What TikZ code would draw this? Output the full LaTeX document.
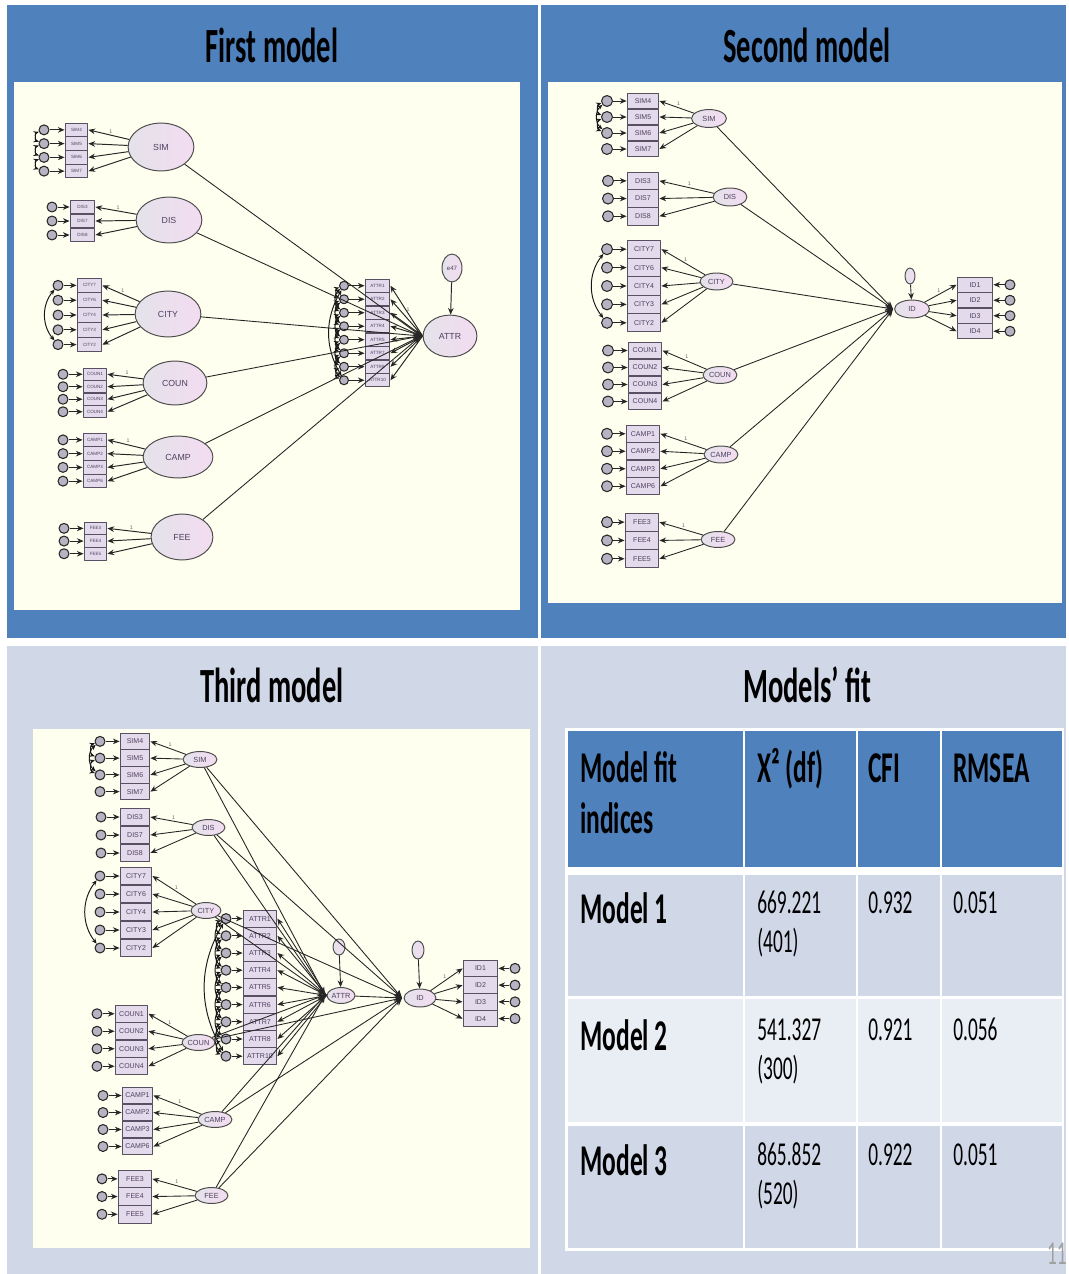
\documentclass[tikz,border=0pt]{standalone}
\usepackage{fontspec}
\usepackage{graphicx}
\setmainfont{Carlito}
\newfontfamily\amos{Liberation Sans}
\usetikzlibrary{arrows.meta,shapes.geometric}

\definecolor{ppblue}{HTML}{4F81BD}
\definecolor{pplight}{HTML}{D0D8E8}
\definecolor{pprow}{HTML}{E9EDF4}
\definecolor{cream}{HTML}{FFFFF0}
\definecolor{latL}{HTML}{E4E2EA}
\definecolor{latR}{HTML}{F3DCF1}
\definecolor{boxfill}{HTML}{E3DBEB}
\definecolor{boxline}{HTML}{5A5064}
\definecolor{errfill}{HTML}{B9B2C2}
\definecolor{inklbl}{HTML}{4E4160}
\definecolor{pagegrey}{HTML}{A0A0A0}

% condensed lettering used for all slide text
\newcommand\sqz[1]{\scalebox{0.58}[1]{#1}}

\tikzset{
  sz/.style 2 args={minimum width=#1*0.567pt, minimum height=#2*0.567pt},
  ind/.style={rectangle, draw=boxline, fill=boxfill, line width=0.55pt, inner sep=0pt,
              text=inklbl, font=\amos\fontsize{4}{4.5}\selectfont},
  err/.style={circle, draw=black!85, fill=errfill, line width=0.6pt, inner sep=0pt},
  lat/.style={ellipse, draw=black!70, left color=latL, right color=latR, line width=0.55pt,
              inner sep=0pt, text=inklbl, font=\amos\fontsize{4.2}{4.5}\selectfont},
  ld/.style={draw=black!85, line width=0.5pt, -{Stealth[length=3.8pt,width=3.2pt]}},
  cov/.style={draw=black!90, line width=0.55pt,
              {Stealth[length=3pt,width=2.6pt]}-{Stealth[length=3pt,width=2.6pt]}},
  reg/.style={draw=black!85, line width=0.5pt, -{Stealth[length=4.5pt,width=3.6pt]}},
  onelbl/.style={font=\amos\fontsize{3}{3}\selectfont, text=black!60, inner sep=0.3pt},
  ttl/.style={font=\bfseries\fontsize{28}{30}\selectfont, anchor=base, inner sep=0pt},
  hdr/.style={font=\bfseries\fontsize{25}{28}\selectfont, anchor=base west, inner sep=0pt},
  num/.style={font=\fontsize{19}{22}\selectfont, anchor=base west, inner sep=0pt},
}

% indicator column: errors on the left
% #1 prefix, #2 box left, #3 box width, #4 top, #5 box height,
% #6 error diameter, #7 error x, #8 factor, #9 labels
\newcommand\indset[9]{%
  \foreach \lab [count=\k] in {#9}{%
    \pgfmathsetmacro\yc{#4+(\k-0.5)*#5}%
    \node[ind, sz={#3}{#5}] (#1\k) at ({#2+#3/2},\yc) {\lab};
    \node[err, minimum size=#6*0.567pt] (#1e\k) at (#7,\yc) {};
    \draw[ld] (#1e\k) -- (#1\k.west);
    \draw[ld] (#8) -- (#1\k.east);
    \ifnum\k=1 \path (#8) -- (#1\k.east) node[pos=0.45, above=0.6pt, onelbl] {1};\fi
  }}
% indicator column: errors on the right
\newcommand\indsetR[9]{%
  \foreach \lab [count=\k] in {#9}{%
    \pgfmathsetmacro\yc{#4+(\k-0.5)*#5}%
    \node[ind, sz={#3}{#5}] (#1\k) at ({#2+#3/2},\yc) {\lab};
    \node[err, minimum size=#6*0.567pt] (#1e\k) at (#7,\yc) {};
    \draw[ld] (#1e\k) -- (#1\k.east);
    \draw[ld] (#8) -- (#1\k.west);
    \ifnum\k=1 \path (#8) -- (#1\k.west) node[pos=0.45, above=0.6pt, onelbl] {1};\fi
  }}

\begin{document}
\begin{tikzpicture}[x=0.02cm, y=-0.02cm, line join=round]
\useasboundingbox (0,0) rectangle (1068,1274);
\fill[white] (0,0) rectangle (1068,1274);

% ---------- panels ----------
\fill[ppblue] (7,5) rectangle (538,638);
\fill[ppblue] (541,5) rectangle (1066,638);
\fill[pplight] (7,646) rectangle (538,1274);
\fill[pplight] (541,646) rectangle (1066,1274);

\fill[cream] (14,82) rectangle (520,610);
\fill[cream] (548,82) rectangle (1062,603);
\fill[cream] (33,729) rectangle (530,1248);

\node[ttl] (t1) at (272,63) {\sqz{First model}};
\node[ttl] (t2) at (807,63) {\sqz{Second model}};
\node[ttl] (t3) at (272,702) {\sqz{Third model}};
\node[ttl] (t4) at (807,702) {\sqz{Models’ fit}};

% ---------- first model ----------
\begin{scope}[ind/.append style={font=\amos\fontsize{2.6}{3}\selectfont},
              lat/.append style={font=\amos\fontsize{5}{6}\selectfont},
              ld/.append style={line width=0.55pt}]
\node[lat, sz={66}{48}] (m1sim)  at (161,147) {SIM};
\node[lat, sz={66}{46}] (m1dis)  at (169,220) {DIS};
\node[lat, sz={66}{46}] (m1city) at (168,314) {CITY};
\node[lat, sz={64}{44}] (m1coun) at (175,383) {COUN};
\node[lat, sz={70}{42}] (m1camp) at (178,457) {CAMP};
\node[lat, sz={62}{46}] (m1fee)  at (182,537) {FEE};
\node[lat, sz={54}{42}] (m1attr) at (450,336) {ATTR};
\node[lat, sz={20}{28}, font=\amos\fontsize{3.5}{4}\selectfont] (m1ae) at (452,268) {e47};
\coordinate (m1hub) at (421,336);

\indset{m1a}{65}{23}{123}{13.75}{10}{44}{m1sim}{SIM4,SIM5,SIM6,SIM7}
\indset{m1b}{70}{25}{200}{14}{10}{52}{m1dis}{DIS3,DIS7,DIS8}
\indset{m1c}{77}{25}{278}{14.8}{10}{58}{m1city}{CITY7,CITY6,CITY4,CITY3,CITY2}
\indset{m1d}{83}{24}{368}{12.5}{10}{63}{m1coun}{COUN1,COUN2,COUN3,COUN4}
\indset{m1e}{83}{24}{433}{13.75}{10}{63}{m1camp}{CAMP1,CAMP2,CAMP3,CAMP6}
\indset{m1f}{84}{23}{522}{12.7}{10}{64}{m1fee}{FEE3,FEE4,FEE5}
\indset{m1g}{365}{25}{279}{13.5}{9}{344}{m1attr.west}{ATTR1,ATTR2,ATTR3,ATTR4,ATTR5,ATTR7,ATTR8,ATTR10}

\draw[cov] (m1ae1) to[bend right=70] (m1ae2);
\draw[cov] (m1ae2) to[bend right=70] (m1ae3);
\draw[cov] (m1ae3) to[bend right=70] (m1ae4);
\draw[cov] (m1ce1) to[bend right=40] (m1ce5);
\foreach \a/\b in {1/2,2/3,3/4,4/5,5/6,6/7,7/8}
  \draw[cov] (m1ge\a) to[bend right=70] (m1ge\b);
\foreach \a/\b in {1/3,3/5,5/7,2/4,4/6,6/8}
  \draw[cov] (m1ge\a) to[bend right=50] (m1ge\b);
\draw[cov] (m1ge1) to[bend right=30] (m1ge8);

\draw[ld] (m1ae) -- (m1attr);
\foreach \f in {m1sim,m1dis,m1city,m1coun,m1camp,m1fee}
  \draw[reg] (\f) -- (m1hub);
\end{scope}

% ---------- second model ----------
\node[lat, sz={35}{18}] (m2sim)  at (709,118.5) {SIM};
\node[lat, sz={34}{18}] (m2dis)  at (730,197) {DIS};
\node[lat, sz={33}{17}] (m2city) at (716.5,281.5) {CITY};
\node[lat, sz={34}{17}] (m2coun) at (720,375) {COUN};
\node[lat, sz={34}{17}] (m2camp) at (721,454.5) {CAMP};
\node[lat, sz={34}{16}] (m2fee)  at (718,539.5) {FEE};
\node[lat, sz={35}{18}] (m2id)   at (912,309) {ID};
\node[lat, sz={10}{16}] (m2ide)  at (910,276) {};
\coordinate (m2hub) at (893,309);

\indset{m2a}{627}{32}{93}{16}{11}{607}{m2sim}{SIM4,SIM5,SIM6,SIM7}
\indset{m2b}{627}{32}{172}{17.7}{11}{608}{m2dis}{DIS3,DIS7,DIS8}
\indset{m2c}{627}{34}{240}{18.4}{11}{607}{m2city}{CITY7,CITY6,CITY4,CITY3,CITY2}
\indset{m2d}{628}{34}{342}{17}{11}{608}{m2coun}{COUN1,COUN2,COUN3,COUN4}
\indset{m2e}{626}{34}{425}{17.5}{11}{607}{m2camp}{CAMP1,CAMP2,CAMP3,CAMP6}
\indset{m2f}{625}{34}{513}{18.3}{11}{607}{m2fee}{FEE3,FEE4,FEE5}
\indsetR{m2h}{957}{36}{277}{15.5}{10}{1010}{m2id}{ID1,ID2,ID3,ID4}

\draw[cov] (m2ae1) to[bend right=70] (m2ae2);
\draw[cov] (m2ae2) to[bend right=70] (m2ae3);
\draw[cov] (m2ae1) to[bend right=50] (m2ae3);
\draw[cov] (m2ce1) to[bend right=38] (m2ce5);

\draw[ld] (m2ide) -- (m2id);
\foreach \f in {m2sim,m2dis,m2city,m2coun,m2camp,m2fee}
  \draw[reg] (\f) -- (m2hub);

% ---------- third model ----------
\node[lat, sz={34}{16}] (m3sim)  at (200,759.5) {SIM};
\node[lat, sz={33}{16}] (m3dis)  at (208.5,827.5) {DIS};
\node[lat, sz={30}{16}] (m3city) at (206,910.5) {CITY};
\node[lat, sz={33}{16}] (m3coun) at (198.5,1042.5) {COUN};
\node[lat, sz={34}{16}] (m3camp) at (215,1119.5) {CAMP};
\node[lat, sz={33}{16}] (m3fee)  at (211.5,1195.5) {FEE};
\node[lat, sz={28}{16}] (m3attr) at (341,995.5) {ATTR};
\node[lat, sz={32}{18}] (m3id)   at (420,998) {ID};
\node[lat, sz={12}{16}] (m3attre) at (339,947) {};
\node[lat, sz={12}{18}] (m3ide)  at (418,950) {};
\coordinate (m3hubA) at (325,995);
\coordinate (m3hubB) at (402,998);

\indset{m3a}{120}{30}{733}{16.75}{10}{100}{m3sim}{SIM4,SIM5,SIM6,SIM7}
\indset{m3b}{120}{30}{808}{18}{10}{101}{m3dis}{DIS3,DIS7,DIS8}
\indset{m3c}{120}{32}{867}{18}{10}{100}{m3city}{CITY7,CITY6,CITY4,CITY3,CITY2}
\indset{m3d}{115}{33}{1005}{17.5}{10}{97}{m3coun}{COUN1,COUN2,COUN3,COUN4}
\indset{m3e}{122}{31}{1087}{17}{10}{103}{m3camp}{CAMP1,CAMP2,CAMP3,CAMP6}
\indset{m3f}{118}{34}{1170}{17.7}{10}{102}{m3fee}{FEE3,FEE4,FEE5}
\indset{m3g}{243}{34}{910}{17.2}{10}{226}{m3attr.west}{ATTR1,ATTR2,ATTR3,ATTR4,ATTR5,ATTR6,ATTR7,ATTR8,ATTR10}
\indsetR{m3h}{463}{35}{960}{16.75}{10}{515}{m3id}{ID1,ID2,ID3,ID4}

\draw[cov] (m3ae1) to[bend right=70] (m3ae2);
\draw[cov] (m3ae2) to[bend right=70] (m3ae3);
\draw[cov] (m3ae1) to[bend right=50] (m3ae3);
\draw[cov] (m3ce1) to[bend right=38] (m3ce5);
\foreach \a/\b in {1/2,2/3,3/4,4/5,5/6,6/7,7/8,8/9}
  \draw[cov] (m3ge\a) to[bend right=70] (m3ge\b);
\foreach \a/\b in {1/3,3/5,5/7,7/9,2/4,4/6,6/8}
  \draw[cov] (m3ge\a) to[bend right=50] (m3ge\b);
\draw[cov] (m3ge1) to[bend right=30] (m3ge9);

\draw[ld] (m3attre) -- (m3attr);
\draw[ld] (m3ide) -- (m3id);
\foreach \f in {m3sim,m3dis,m3city,m3coun,m3camp,m3fee}{
  \draw[reg] (\f) -- (m3hubA);
  \draw[reg] (\f) -- (m3hubB);
}
\draw[reg] (m3attr) -- (m3hubB);

% ---------- fit table ----------
\fill[white] (565,728) rectangle (1064,1251);
\foreach \xa/\xb in {568/743,745/856,858/940,942/1062}{
  \fill[ppblue]  (\xa,731) rectangle (\xb,867);
  \fill[pplight] (\xa,875) rectangle (\xb,996);
  \fill[pprow]   (\xa,999) rectangle (\xb,1122);
  \fill[pplight] (\xa,1126) rectangle (\xb,1248);
}
\node[hdr] (h1a) at (580,782) {\sqz{Model fit}};
\node[hdr] (h1b) at (580,833) {\sqz{indices}};
\node[hdr] (h2)  at (757,782) {\sqz{X² (df)}};
\node[hdr] (h3)  at (868,782) {\sqz{CFI}};
\node[hdr] (h4)  at (953,782) {\sqz{RMSEA}};

\node[hdr] (r1)  at (580,923) {\sqz{Model 1}};
\node[num] (r1a) at (757,913) {\sqz{669.221}};
\node[num] (r1b) at (757,952) {\sqz{(401)}};
\node[num] (r1c) at (868,913) {\sqz{0.932}};
\node[num] (r1d) at (953,913) {\sqz{0.051}};

\node[hdr] (r2)  at (580,1050) {\sqz{Model 2}};
\node[num] (r2a) at (757,1040) {\sqz{541.327}};
\node[num] (r2b) at (757,1079) {\sqz{(300)}};
\node[num] (r2c) at (868,1040) {\sqz{0.921}};
\node[num] (r2d) at (953,1040) {\sqz{0.056}};

\node[hdr] (r3)  at (580,1175) {\sqz{Model 3}};
\node[num] (r3a) at (757,1165) {\sqz{865.852}};
\node[num] (r3b) at (757,1204) {\sqz{(520)}};
\node[num] (r3c) at (868,1165) {\sqz{0.922}};
\node[num] (r3d) at (953,1165) {\sqz{0.051}};

\node[num, text=pagegrey, anchor=base east] (pg) at (1067,1264) {\sqz{11}};
\end{tikzpicture}
\end{document}
